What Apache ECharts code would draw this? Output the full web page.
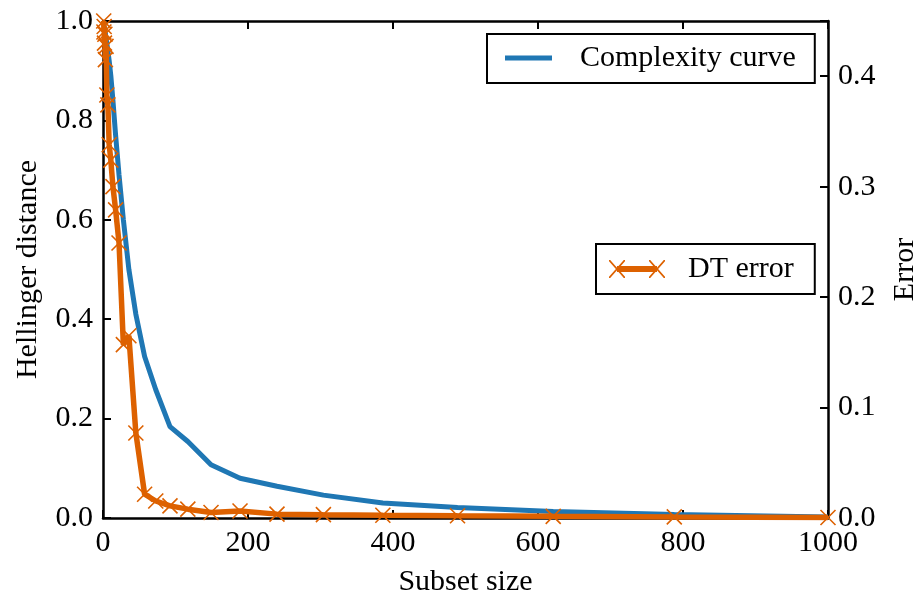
<!DOCTYPE html>
<html>
<head>
<meta charset="utf-8">
<script src="https://cdn.jsdelivr.net/npm/echarts@6/dist/echarts.min.js"></script>
<style>
  html, body { margin: 0; padding: 0; background: #fff; }
  #chart { width: 916px; height: 594px; }
</style>
</head>
<body>
<div id="chart"></div>
<script>
// ---- data ----
const subsetSizes = [1, 1.27, 1.61, 2.04, 2.59, 3.29, 4.18, 5.30, 6.72, 8.53, 10.8, 13.7, 17.4, 22.1, 28.1, 35.7, 45.3, 57.4, 72.8, 92.4, 117, 149, 189, 240, 304, 386, 489, 621, 788, 1000];
const complexityCurve = [1.0, 0.995, 0.99, 0.985, 0.98, 0.975, 0.965, 0.955, 0.94, 0.92, 0.89, 0.84, 0.77, 0.69, 0.60, 0.50, 0.41, 0.325, 0.258, 0.184, 0.154, 0.107, 0.080, 0.064, 0.046, 0.030, 0.021, 0.013, 0.007, 0.002];
const dtError = [0.45, 0.44, 0.445, 0.43, 0.438, 0.415, 0.427, 0.383, 0.374, 0.338, 0.324, 0.30, 0.279, 0.249, 0.157, 0.165, 0.077, 0.0215, 0.0154, 0.011, 0.008, 0.005, 0.0063, 0.0035, 0.003, 0.0025, 0.002, 0.0015, 0.001, 0.0005];
const seriesNames = ['Complexity curve', 'DT error'];
const axisNames = { x: 'Subset size', left: 'Hellinger distance', right: 'Error' };

// ---- style ----
const FONT = 'Liberation Serif';
const FS = 30;
const LFS = 30;
const BLUE = '#1f77b4';
const ORANGE = '#dd6100';
const AX = { show: true, onZero: false, lineStyle: { color: '#000', width: 2.5 } };
const TICK = { show: true, inside: true, length: 8, lineStyle: { color: '#000', width: 2 } };
const LABEL = { fontFamily: FONT, fontSize: FS, color: '#000' };
const NAME = { fontFamily: FONT, fontSize: FS, color: '#000' };

const xMarker = 'path://M0 0L16 16M16 0L0 16';
const legendErrIcon = 'path://M0 0L1.2 0L16 16.8L16 18L14.8 18L0 1.2Z' +
  'M16 0L16 1.2L1.2 18L0 18L0 16.8L14.8 0Z' +
  'M8 6L48 6L48 12L8 12Z' +
  'M40 0L41.2 0L56 16.8L56 18L54.8 18L40 1.2Z' +
  'M56 0L56 1.2L41.2 18L40 18L40 16.8L54.8 0Z';

const chart = echarts.init(document.getElementById('chart'), null, { renderer: 'canvas' });

const option = {
  animation: false,
  backgroundColor: '#fff',
  grid: { left: 103, right: 88, top: 21, bottom: 76, containLabel: false, outerBoundsMode: 'none' },
  xAxis: [
    {
      type: 'value', min: 0, max: 1000, interval: 200, position: 'bottom',
      axisLine: AX, axisTick: TICK, splitLine: { show: false },
      axisLabel: Object.assign({ margin: 10, formatter: v => String(v) }, LABEL),
      name: axisNames.x, nameLocation: 'middle', nameGap: 49, nameTextStyle: NAME
    },
    {
      type: 'value', min: 0, max: 1000, interval: 200, position: 'top',
      axisLine: AX, axisTick: TICK, splitLine: { show: false },
      axisLabel: { show: false }
    }
  ],
  yAxis: [
    {
      type: 'value', min: 0, max: 1, interval: 0.2, position: 'left',
      axisLine: AX, axisTick: TICK, splitLine: { show: false },
      axisLabel: Object.assign({ margin: 10, formatter: v => v.toFixed(1) }, LABEL),
      name: axisNames.left, nameLocation: 'middle', nameGap: 60, nameRotate: 90, nameTextStyle: NAME
    },
    {
      type: 'value', min: 0, max: 0.45, interval: 0.1, position: 'right',
      axisLine: AX, axisTick: TICK, splitLine: { show: false },
      axisLabel: Object.assign({ margin: 10, formatter: v => (v > 0.41 ? '' : v.toFixed(1)) }, LABEL),
      name: axisNames.right, nameLocation: 'middle', nameGap: 62, nameRotate: 90, nameTextStyle: NAME
    }
  ],
  legend: [
    {
      data: [{ name: seriesNames[0], icon: 'rect' }],
      left: 487, top: 34, itemWidth: 47, itemHeight: 5,
      padding: [9, 19, 10, 18],
      borderColor: '#000', borderWidth: 2, borderRadius: 0, backgroundColor: '#fff',
      textStyle: { fontFamily: FONT, fontSize: LFS, color: '#000', padding: [0, 0, 0, 23] }
    },
    {
      data: [{ name: seriesNames[1], icon: legendErrIcon, itemStyle: { borderWidth: 0, color: ORANGE } }],
      left: 596, top: 244, itemWidth: 56, itemHeight: 18,
      padding: [10, 21, 10, 13],
      borderColor: '#000', borderWidth: 2, borderRadius: 0, backgroundColor: '#fff',
      textStyle: { fontFamily: FONT, fontSize: LFS, color: '#000', padding: [0, 0, 0, 18] }
    }
  ],
  series: [
    {
      name: seriesNames[0], type: 'line', xAxisIndex: 0, yAxisIndex: 0,
      data: subsetSizes.map((s, i) => [s, complexityCurve[i]]),
      symbol: 'none', lineStyle: { color: BLUE, width: 5 }, itemStyle: { color: BLUE },
      z: 2
    },
    {
      name: seriesNames[1], type: 'line', xAxisIndex: 0, yAxisIndex: 1,
      data: subsetSizes.map((s, i) => [s, dtError[i]]),
      symbol: xMarker, symbolSize: 15, showSymbol: true, showAllSymbol: true,
      lineStyle: { color: ORANGE, width: 5.5 },
      itemStyle: { color: ORANGE, borderColor: ORANGE, borderWidth: 1.6 },
      z: 3
    }
  ]
};
chart.setOption(option);
</script>
</body>
</html>
